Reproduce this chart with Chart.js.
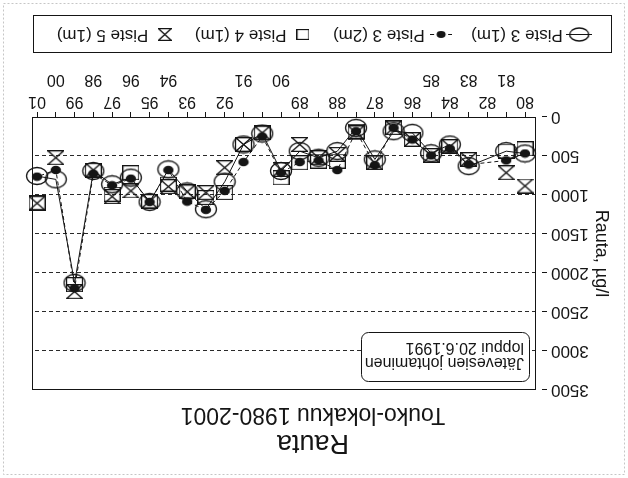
<!DOCTYPE html>
<html>
<head>
<meta charset="utf-8">
<title>Rauta</title>
<script src="https://cdn.jsdelivr.net/npm/chart.js@4.4.0/dist/chart.umd.min.js"></script>
<style>
  html, body { margin: 0; padding: 0; background: #fff; }
  /* the scanned original is printed upside down */
  #wrap { width: 628px; height: 478px; transform: rotate(180deg); }
  canvas { display: block; }
</style>
</head>
<body>
<div id="wrap"><canvas id="rautaChart" width="628" height="478"></canvas></div>
<script>
// Sampling rounds 1980-2001 (empty label = extra sampling without a year label)
const sampleLabels = ['80', '81', '82', '83', '84', '85', '86', '', '87', '', '88', '', '89', '90', '', '91', '92', '', '93', '94', '95', '96', '97', '98', '99', '00', '01'];

// Rauta, µg/l
const piste3_1m = [468, 438, null, 630, 353, 465, 204, 183, 544, 140, 438, 523, 438, 693, 213, 353, 830, 1183, 955, 672, 1089, 778, 863, 693, 2127, 800, 757];
const piste3_2m = [468, 557, null, 610, 405, 493, 290, 140, 617, 183, 681, 557, 578, 715, 250, 578, 949, 1191, 1085, 681, 1089, 791, 876, 727, 2195, 680, 766];
const piste4_1m = [408, 438, null, 544, 374, 493, 289, 140, 587, 183, 566, 566, 587, 780, 204, 353, 970, 1033, 950, 860, 1080, 715, 991, 680, 2150, null, 1100];
const piste5_1m = [885, 715, null, 544, 380, 493, 289, 140, 587, 204, 480, 523, 353, 672, 204, 353, 650, 970, 961, 893, 1080, 948, 1021, 680, 2240, 523, 1106];

const rautaTicks = [0, 500, 1000, 1500, 2000, 2500, 3000, 3500];
const seriesNames = ['Piste 3 (1m)', 'Piste 3 (2m)', 'Piste 4 (1m)', 'Piste 5 (1m)'];
const noteLines = ['Jätevesien johtaminen', 'loppui 20.6.1991'];

document.addEventListener("DOMContentLoaded", function () {
  var ink = "#151515";
  var sans = "'Liberation Sans', Arial, Helvetica, sans-serif";
  var narrow = "'Liberation Sans Narrow', 'Arial Narrow', 'Liberation Sans', Arial, sans-serif";

  // year labels that sit on the second (lower) row under the axis
  var secondRow = ['81', '83', '85', '90', '91', '94', '96', '98', '00'];

  // small helper to draw marker pictures
  function makeMark(w, h, draw) {
    var c = document.createElement("canvas");
    c.width = w;
    c.height = h;
    var g = c.getContext("2d");
    g.strokeStyle = ink;
    g.fillStyle = ink;
    g.lineWidth = 1.3;
    draw(g, w, h);
    return c;
  }

  var circleMark = makeMark(24, 20, function (g) {
    g.beginPath();
    g.ellipse(12, 10, 10.5, 8.5, 0, 0, Math.PI * 2);
    g.stroke();
  });
  var dotMark = makeMark(12, 10, function (g) {
    g.beginPath();
    g.ellipse(6, 5, 5.2, 4.2, 0, 0, Math.PI * 2);
    g.fill();
  });
  var squareMark = makeMark(17, 15, function (g) {
    g.strokeRect(0.5, 0.5, 16, 14);
  });
  var hourglassMark = makeMark(17, 15, function (g) {
    g.beginPath();
    g.moveTo(0.5, 0.5);
    g.lineTo(16.5, 0.5);
    g.lineTo(0.5, 14.5);
    g.lineTo(16.5, 14.5);
    g.closePath();
    g.stroke();
  });

  // legend icons
  var legendIcons = [
    makeMark(26, 15, function (g) {
      g.lineWidth = 1;
      g.beginPath();
      g.moveTo(0, 7.5);
      g.lineTo(26, 7.5);
      g.stroke();
      g.lineWidth = 1.3;
      g.beginPath();
      g.ellipse(13, 7.5, 9.5, 6.5, 0, 0, Math.PI * 2);
      g.stroke();
    }),
    makeMark(22, 9, function (g) {
      g.lineWidth = 1;
      g.beginPath();
      g.moveTo(0, 4.5);
      g.lineTo(4, 4.5);
      g.moveTo(18, 4.5);
      g.lineTo(22, 4.5);
      g.stroke();
      g.beginPath();
      g.ellipse(11, 4.5, 4.5, 3.5, 0, 0, Math.PI * 2);
      g.fill();
    }),
    makeMark(13, 11, function (g) {
      g.strokeRect(0.5, 0.5, 12, 10);
    }),
    makeMark(14, 13, function (g) {
      g.beginPath();
      g.moveTo(0.5, 0.5);
      g.lineTo(13.5, 0.5);
      g.lineTo(0.5, 12.5);
      g.lineTo(13.5, 12.5);
      g.closePath();
      g.stroke();
    })
  ];

  function toPoints(values) {
    return values.map(function (v, i) {
      return { x: i, y: v };
    });
  }

  function roundBox(g, x, y, w, h, r) {
    g.beginPath();
    g.moveTo(x + r, y);
    g.arcTo(x + w, y, x + w, y + h, r);
    g.arcTo(x + w, y + h, x, y + h, r);
    g.arcTo(x, y + h, x, y, r);
    g.arcTo(x, y, x + w, y, r);
    g.closePath();
  }

  // page background, frames and the note box
  var pagePlugin = {
    id: "page",
    afterLayout: function (chart) {
      chart.boxes.forEach(function (box) {
        if (box.options && typeof box.options.text === "string") {
          box.left += 9;
          box.right += 9;
        }
      });
    },
    beforeDraw: function (chart) {
      var g = chart.ctx;
      g.save();
      g.fillStyle = "#ffffff";
      g.fillRect(0, 0, chart.width, chart.height);
      g.restore();
    },
    afterDraw: function (chart) {
      var g = chart.ctx;
      var area = chart.chartArea;
      g.save();
      g.strokeStyle = ink;
      g.lineWidth = 1;

      // plot frame
      g.strokeRect(Math.round(area.left) + 0.5, Math.round(area.top) + 0.5,
        Math.round(area.right - area.left) - 1, Math.round(area.bottom - area.top) - 1);

      // legend frame
      var lg = chart.legend;
      var cy = lg.top + lg.options.labels.padding + 8.5;
      g.strokeRect(Math.round(lg.left) + 0.5, Math.round(cy - 18.5) + 0.5, Math.round(lg.width) - 2, 37);

      // note: wastewater discharge ended
      var nx = Math.round(area.left) + 6.5;
      var ny = Math.round(area.top) + 8.5;
      roundBox(g, nx, ny, 168, 49, 7);
      g.fillStyle = "#ffffff";
      g.fill();
      g.stroke();
      g.fillStyle = ink;
      g.font = "16px " + sans;
      g.textBaseline = "middle";
      g.textAlign = "left";
      g.fillText(noteLines[0], nx + 5.5, ny + 19.5);
      g.fillText(noteLines[1], nx + 5.5, ny + 34.5);

      // faint edge of the scanned sheet
      g.strokeStyle = "#c6c6c6";
      g.setLineDash([2, 2]);
      g.strokeRect(3.5, 3.5, chart.width - 7, chart.height - 7);
      g.restore();
    }
  };

  function createRautaChart() {
    var ctx = document.getElementById("rautaChart").getContext("2d");
    var rautaChart = new Chart(ctx, {
      type: "line",
      data: {
        datasets: [
          {
            label: seriesNames[0],
            data: toPoints(piste3_1m),
            borderColor: ink,
            borderWidth: 1,
            pointStyle: circleMark,
            pointRadius: 9,
            spanGaps: true,
            clip: false,
          },
          {
            label: seriesNames[1],
            data: toPoints(piste3_2m),
            borderColor: ink,
            borderWidth: 1,
            borderDash: [4, 3],
            pointStyle: dotMark,
            pointRadius: 5,
            spanGaps: true,
            clip: false,
          },
          {
            label: seriesNames[2],
            data: toPoints(piste4_1m),
            showLine: false,
            pointStyle: squareMark,
            pointRadius: 8,
            clip: false,
          },
          {
            label: seriesNames[3],
            data: toPoints(piste5_1m),
            showLine: false,
            pointStyle: hourglassMark,
            pointRadius: 8,
            clip: false,
          },
        ],
      },
      options: {
        responsive: false,
        animation: false,
        events: [],
        layout: {
          padding: { left: 16, right: 32, top: 0, bottom: 16 },
        },
        scales: {
          x: {
            type: "linear",
            min: -0.586,
            max: 26.27,
            afterBuildTicks: function (scale) {
              scale.ticks = sampleLabels.map(function (s, i) {
                return { value: i };
              });
            },
            afterFit: function (scale) {
              scale.height = 52;
            },
            border: { display: false },
            grid: {
              drawOnChartArea: false,
              tickLength: 5,
              tickColor: ink,
            },
            ticks: {
              autoSkip: false,
              maxRotation: 0,
              padding: 0,
              color: ink,
              font: { family: narrow, size: 16, lineHeight: 1.35 },
              callback: function (value) {
                var s = sampleLabels[value];
                if (!s) return "";
                return secondRow.indexOf(s) >= 0 ? ["", s] : s;
              },
            },
          },
          y: {
            min: rautaTicks[0],
            max: rautaTicks[rautaTicks.length - 1],
            afterBuildTicks: function (scale) {
              scale.ticks = rautaTicks.map(function (v) {
                return { value: v };
              });
            },
            afterFit: function (scale) {
              scale.width = 76;
            },
            border: { display: false, dash: [4, 3] },
            grid: {
              color: function (c) {
                var v = c.tick ? c.tick.value : 0;
                return v === rautaTicks[0] || v === rautaTicks[rautaTicks.length - 1] ? "rgba(0,0,0,0)" : "#2a2a2a";
              },
              tickLength: 11,
              tickColor: ink,
              tickBorderDash: [5, 20],
            },
            ticks: {
              padding: 4,
              color: ink,
              font: { family: sans, size: 17 },
              callback: function (value) {
                return String(value);
              },
            },
            title: {
              display: true,
              text: "Rauta, µg/l",
              color: ink,
              padding: 0,
              font: { family: sans, size: 18 },
            },
          },
        },
        plugins: {
          title: {
            display: true,
            text: "Rauta",
            color: ink,
            padding: { top: 22, bottom: 0 },
            font: { family: sans, size: 27, weight: "normal", lineHeight: 1 },
          },
          subtitle: {
            display: true,
            text: "Touko-lokakuu 1980-2001",
            color: ink,
            padding: { top: 3, bottom: 13 },
            font: { family: sans, size: 23, lineHeight: 1 },
          },
          legend: {
            position: "bottom",
            labels: {
              usePointStyle: true,
              pointStyleWidth: 16,
              boxHeight: 17,
              padding: 22,
              color: ink,
              font: { family: sans, size: 17 },
              generateLabels: function (chart) {
                var items = Chart.defaults.plugins.legend.labels.generateLabels(chart);
                items.forEach(function (item, i) {
                  item.pointStyle = legendIcons[i];
                });
                return items;
              },
            },
          },
          tooltip: { enabled: false },
        },
      },
      plugins: [pagePlugin],
    });
  }

  createRautaChart();
});
</script>
</body>
</html>
